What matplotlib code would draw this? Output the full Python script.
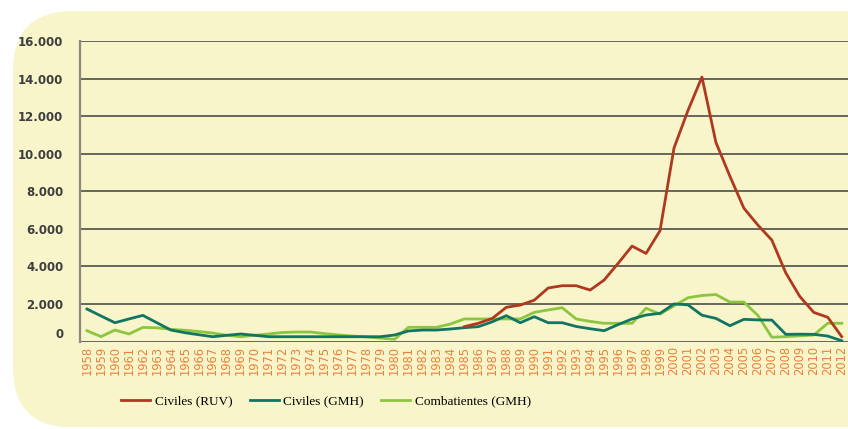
import matplotlib.pyplot as plt
import matplotlib.transforms as mtransforms
import numpy as np
from matplotlib.patches import FancyBboxPatch

years = np.arange(1958, 2013)

# Civiles (RUV) - only from 1985
ruv_start = 1985
ruv = [790, 970, 1230, 1820, 1940, 2200, 2850, 2970, 2970, 2740,
       3270, 4160, 5080, 4690, 5900, 10300, 12300, 14080, 10600, 8800,
       7100, 6200, 5400, 3650, 2400, 1550, 1290, 260]

civiles_gmh = [1730, 1360, 1000, 1200, 1390, 1000, 610, 470, 360, 255,
               330, 400, 330, 255, 255, 255, 255, 255, 255, 255,
               255, 255, 345, 560, 610, 610, 665, 735, 790, 1050,
               1375, 1000, 1320, 1000, 1000, 800, 680, 575, 900, 1200,
               1410, 1500, 2000, 1950, 1400, 1230, 840, 1180, 1150, 1140,
               380, 390, 380, 290, 40]

combatientes_gmh = [575, 260, 610, 400, 750, 730, 650, 600, 530, 450,
                    330, 255, 330, 400, 480, 505, 505, 420, 350, 290,
                    240, 180, 115, 755, 755, 755, 930, 1200, 1200, 1200,
                    1200, 1200, 1550, 1680, 1800, 1200, 1070, 970, 970, 970,
                    1770, 1460, 1900, 2330, 2450, 2500, 2100, 2100, 1390, 225,
                    260, 300, 345, 970, 970]

yticks = [0, 2000, 4000, 6000, 8000, 10000, 12000, 14000, 16000]
ytick_labels = ["0", "2.000", "4.000", "6.000", "8.000", "10.000",
                "12.000", "14.000", "16.000"]

c_red = "#B0381E"
c_teal = "#117562"
c_green = "#8CC63F"
bg = "#F7F5C9"

fig = plt.figure(figsize=(8.48, 4.29), dpi=100, facecolor="white")
panel = FancyBboxPatch((13 / 848, 0.004), 1.2, 0.97,
                       boxstyle="round,pad=0,rounding_size=0.07",
                       transform=fig.transFigure, facecolor=bg,
                       edgecolor="none", mutation_aspect=848 / 429,
                       zorder=-10)
fig.patches.append(panel)

ax = fig.add_axes([80 / 848, 87.5 / 429, 768 / 848, 300.5 / 429])
ax.set_facecolor("none")

for y in yticks:
    ax.axhline(y, color="#4d4d4a", lw=1.2, zorder=1)

ruv_years = np.arange(ruv_start, ruv_start + len(ruv))
ax.plot(years, combatientes_gmh, color=c_green, lw=2.0, zorder=3,
        label="Combatientes (GMH)")
ax.plot(years, civiles_gmh, color=c_teal, lw=2.0, zorder=4,
        label="Civiles (GMH)")
ax.plot(ruv_years, ruv, color=c_red, lw=2.0, zorder=5,
        label="Civiles (RUV)")

ax.set_xlim(1957.5, 2012.45)
ax.set_ylim(0, 16000)
for s in ["top", "right", "bottom"]:
    ax.spines[s].set_visible(False)
ax.spines["left"].set_color("#8a8a80")
ax.spines["left"].set_linewidth(1.6)

ax.set_yticks(yticks)
ax.set_yticklabels(ytick_labels, fontsize=8.5, fontweight="bold",
                   color="#3d3d3d")
ax.tick_params(axis="y", length=0, pad=12)
# the "0" label sits a little above the baseline in the original
lab0 = ax.get_yticklabels()[0]
lab0.set_transform(lab0.get_transform() +
                   mtransforms.ScaledTranslation(0, 8 / 100, fig.dpi_scale_trans))

ax.set_xticks(years)
ax.set_xticklabels([str(y) for y in years], rotation=90, fontsize=8.3,
                   color="#EE7F3A", fontfamily="DejaVu Sans")
ax.tick_params(axis="x", length=0, pad=3)

h, l = ax.get_legend_handles_labels()
order = [2, 1, 0]
fig.legend([h[i] for i in order], [l[i] for i in order],
           loc="center", bbox_to_anchor=(326 / 848, 1 - 401 / 429),
           ncol=3, frameon=False, handlelength=2.2, columnspacing=1.3,
           handletextpad=0.35,
           prop={"family": "Liberation Serif", "size": 9.5})

fig.savefig("out.png", dpi=100, facecolor="white")
